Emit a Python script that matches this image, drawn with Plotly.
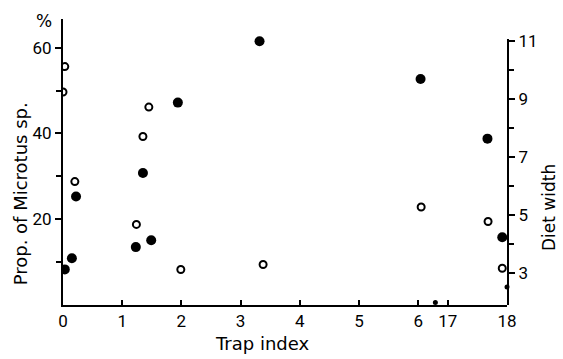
import plotly.graph_objects as go

# Broken x axis: positions 0..6 are trap index 0..6; 6.5 -> 17, 7.5 -> 18
tick_pos = [0, 1, 2, 3, 4, 5, 6, 6.5, 7.5]
tick_labels = ["0", "1", "2", "3", "4", "5", "6", "17", "18"]

# Prop. of Microtus sp. (%), filled circles, left axis
prop_x = [0.03, 0.15, 0.22, 1.23, 1.35, 1.49, 1.94, 3.32, 6.04, 7.17, 7.42]
prop_y = [8.3, 10.9, 25.3, 13.5, 30.8, 15.1, 47.2, 61.5, 52.7, 38.8, 15.8]

# Diet width, open circles, right axis
diet_x = [0.03, 0.0, 0.2, 1.24, 1.35, 1.45, 1.99, 3.38, 6.05, 7.18, 7.42]
diet_y = [10.13, 9.25, 6.15, 4.67, 7.71, 8.73, 3.11, 3.28, 5.27, 4.77, 3.15]

# small marks at the axes
small_x = [6.29, 7.5]
small_y = [0.6, 4.2]

left_ticks = [20, 40, 60]
left_minor = [10, 30, 50]
right_ticks = [3, 5, 7, 9, 11]
right_minor = [4, 6, 8, 10]

L, R, T, B = 63, 56, 13, 54
W, H = 563, 359
pw, ph = W - L - R, H - T - B

def px(x):
    return (x - L) / pw

def py(y):
    return (H - B - y) / ph

FAM = "DejaVu Sans, sans-serif"
tickfont = dict(family="Roboto, DejaVu Sans, sans-serif", size=17, color="black")
titlefont = dict(family=FAM, size=18, color="black")

fig = go.Figure()
fig.add_trace(go.Scatter(x=diet_x, y=diet_y, mode="markers", xaxis="x", yaxis="y2",
                         marker=dict(symbol="circle-open", size=7, color="black",
                                     line=dict(width=2, color="black")),
                         name="Diet width"))
fig.add_trace(go.Scatter(x=prop_x, y=prop_y, mode="markers", xaxis="x", yaxis="y",
                         marker=dict(symbol="circle", size=10, color="black"),
                         name="Prop. of Microtus sp."))
fig.add_trace(go.Scatter(x=small_x, y=small_y, mode="markers", xaxis="x", yaxis="y",
                         marker=dict(symbol="circle", size=5, color="black"),
                         cliponaxis=False, name="marks"))

fig.update_layout(
    width=W, height=H,
    margin=dict(l=L, r=R, t=T, b=B, pad=0),
    paper_bgcolor="white", plot_bgcolor="rgba(0,0,0,0)",
    showlegend=False,
    font=tickfont,
    xaxis=dict(range=[0, 7.5], tickmode="array", tickvals=tick_pos, ticktext=tick_labels,
               showline=True, linecolor="black", linewidth=2, ticks="inside", ticklen=5,
               tickwidth=2, tickcolor="black", showgrid=False, zeroline=False,
               tickfont=tickfont),
    yaxis=dict(range=[0, 66.7], tickmode="array", tickvals=left_ticks,
               showline=True, linecolor="black", linewidth=2, ticks="outside", ticklen=6,
               tickwidth=2, tickcolor="black", showgrid=False, zeroline=False,
               tickfont=tickfont,
               minor=dict(tickmode="array", tickvals=left_minor, ticks="outside",
                          ticklen=5, tickwidth=2, tickcolor="black", showgrid=False)),
    yaxis2=dict(range=[1.88, 11.1], domain=[0, (H - B - 33) / ph], anchor="x", side="right",
                tickmode="array", tickvals=right_ticks,
                showline=True, linecolor="black", linewidth=2, ticks="outside", ticklen=6,
                tickwidth=2, tickcolor="black", showgrid=False, zeroline=False,
                tickfont=tickfont,
                minor=dict(tickmode="array", tickvals=right_minor, ticks="outside",
                           ticklen=5, tickwidth=2, tickcolor="black", showgrid=False)),
    annotations=[
        dict(text="%", x=px(44), y=py(15), xref="paper", yref="paper", showarrow=False,
             xanchor="center", yanchor="middle",
             font=dict(family=FAM, size=17, color="black")),
        dict(text="Trap index", x=px(262), y=py(344), xref="paper", yref="paper",
             xanchor="center", yanchor="middle", showarrow=False, font=titlefont),
        dict(text="Prop. of Microtus sp.", x=px(20), y=py(192), xref="paper", yref="paper",
             xanchor="center", yanchor="middle", showarrow=False, textangle=-90,
             font=titlefont),
        dict(text="Diet width", x=px(549), y=py(206), xref="paper", yref="paper",
             xanchor="center", yanchor="middle", showarrow=False, textangle=-90,
             font=dict(family=FAM, size=17, color="black")),
    ],
)

fig.write_html("out.html", config={"displayModeBar": False},
               post_script="document.body.style.margin='0';")
